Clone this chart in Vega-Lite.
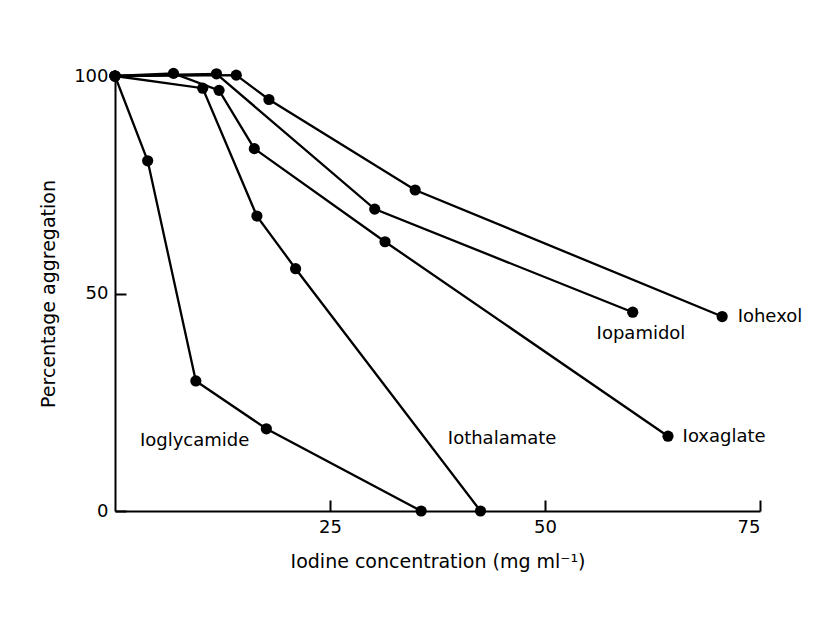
{
  "$schema": "https://vega.github.io/schema/vega-lite/v6.json",
  "width": 645,
  "height": 435,
  "autosize": "none",
  "padding": {"left": 115, "top": 76, "right": 53, "bottom": 121},
  "background": "white",
  "config": {
    "view": {"stroke": null},
    "font": "DejaVu Sans",
    "axis": {
      "grid": false,
      "domainColor": "black",
      "domainWidth": 2,
      "tickColor": "black",
      "tickWidth": 2,
      "tickSize": -11,
      "labelColor": "black",
      "labelFontSize": 18,
      "labelPadding": 18,
      "titleColor": "black",
      "titleFontSize": 19,
      "titleFontWeight": "normal"
    }
  },
  "datasets": {
    "curves": [
      {"agent": "Ioglycamide", "conc": 0, "pct": 100},
      {"agent": "Ioglycamide", "conc": 3.8, "pct": 80.5},
      {"agent": "Ioglycamide", "conc": 9.4, "pct": 29.9},
      {"agent": "Ioglycamide", "conc": 17.6, "pct": 18.9},
      {"agent": "Ioglycamide", "conc": 35.6, "pct": 0},
      {"agent": "Iothalamate", "conc": 0, "pct": 100},
      {"agent": "Iothalamate", "conc": 10.2, "pct": 97.2},
      {"agent": "Iothalamate", "conc": 16.5, "pct": 67.8},
      {"agent": "Iothalamate", "conc": 21.0, "pct": 55.7},
      {"agent": "Iothalamate", "conc": 42.5, "pct": 0},
      {"agent": "Ioxaglate", "conc": 0, "pct": 100},
      {"agent": "Ioxaglate", "conc": 6.8, "pct": 100.6},
      {"agent": "Ioxaglate", "conc": 12.1, "pct": 96.7},
      {"agent": "Ioxaglate", "conc": 16.2, "pct": 83.3},
      {"agent": "Ioxaglate", "conc": 31.4, "pct": 61.9},
      {"agent": "Ioxaglate", "conc": 64.3, "pct": 17.2},
      {"agent": "Iopamidol", "conc": 0, "pct": 100},
      {"agent": "Iopamidol", "conc": 11.8, "pct": 100.5},
      {"agent": "Iopamidol", "conc": 30.2, "pct": 69.4},
      {"agent": "Iopamidol", "conc": 60.2, "pct": 45.7},
      {"agent": "Iohexol", "conc": 0, "pct": 100},
      {"agent": "Iohexol", "conc": 14.1, "pct": 100.2},
      {"agent": "Iohexol", "conc": 17.9, "pct": 94.6},
      {"agent": "Iohexol", "conc": 34.9, "pct": 73.8},
      {"agent": "Iohexol", "conc": 70.6, "pct": 44.7}
    ],
    "labels": [
      {"name": "Iohexol", "conc": 72.4, "pct": 44.6},
      {"name": "Iopamidol", "conc": 56.0, "pct": 40.6},
      {"name": "Ioxaglate", "conc": 66.0, "pct": 16.9},
      {"name": "Iothalamate", "conc": 38.7, "pct": 16.6},
      {"name": "Ioglycamide", "conc": 2.9, "pct": 16.2}
    ]
  },
  "layer": [
    {
      "data": {"name": "curves"},
      "mark": {"type": "line", "color": "black", "strokeWidth": 2.3},
      "encoding": {
        "x": {
          "field": "conc",
          "type": "quantitative",
          "scale": {"domain": [0, 75], "nice": false},
          "axis": {
            "values": [25, 50, 75],
            "title": "Iodine concentration (mg ml⁻¹)",
            "titleX": 322.5,
            "titleY": 50,
            "titleBaseline": "middle"
          }
        },
        "y": {
          "field": "pct",
          "type": "quantitative",
          "scale": {"domain": [0, 100], "nice": false},
          "axis": {
            "values": [0, 50, 100],
            "title": "Percentage aggregation",
            "titleX": -67,
            "titleY": 217.5,
            "titleAngle": -90,
            "titleAlign": "center",
            "titleBaseline": "middle"
          }
        },
        "detail": {"field": "agent"}
      }
    },
    {
      "data": {"name": "curves"},
      "mark": {"type": "circle", "color": "black", "opacity": 1, "size": 125},
      "encoding": {
        "x": {"field": "conc", "type": "quantitative"},
        "y": {"field": "pct", "type": "quantitative"}
      }
    },
    {
      "data": {"name": "labels"},
      "mark": {"type": "text", "align": "left", "baseline": "middle", "fontSize": 18, "color": "black"},
      "encoding": {
        "x": {"field": "conc", "type": "quantitative"},
        "y": {"field": "pct", "type": "quantitative"},
        "text": {"field": "name"}
      }
    }
  ]
}
